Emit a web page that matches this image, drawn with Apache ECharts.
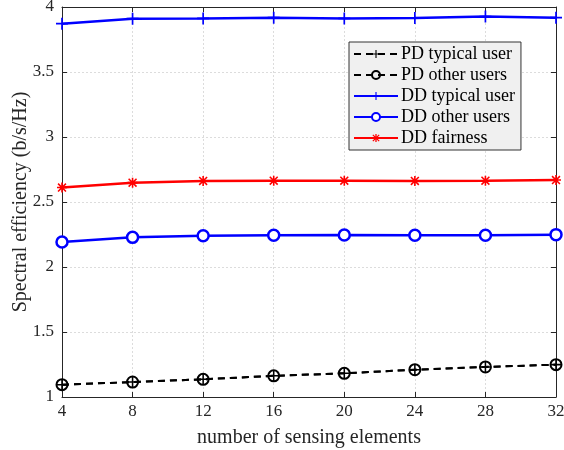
<!DOCTYPE html>
<html><head><meta charset="utf-8">
<script src="https://cdn.jsdelivr.net/npm/echarts@6/dist/echarts.min.js"></script>
<style>html,body{margin:0;padding:0;background:#fff}#c{width:564px;height:450px}</style>
</head><body><div id="c"></div>
<script>
const xValues = [4, 8, 12, 16, 20, 24, 28, 32];
const pdTypical = [1.095, 1.115, 1.136, 1.163, 1.182, 1.21, 1.231, 1.249];
const pdOther = [1.095, 1.115, 1.136, 1.163, 1.182, 1.21, 1.231, 1.249];
const ddTypical = [3.872, 3.91, 3.912, 3.918, 3.912, 3.916, 3.926, 3.918];
const ddOther = [2.192, 2.228, 2.241, 2.244, 2.246, 2.244, 2.244, 2.249];
const ddFair = [2.611, 2.649, 2.662, 2.664, 2.664, 2.662, 2.664, 2.669];
const seriesNames = ['PD typical user', 'PD other users', 'DD typical user', 'DD other users', 'DD fairness'];
const yTitle = 'Spectral efficiency (b/s/Hz)';
const xTitle = 'number of sensing elements';

const plusPath = 'path://M4.3,0h1.4v10h-1.4zM0,4.3h10v1.4h-10z';
const starPath = 'path://M4.2,0h1.6v10h-1.6zM0,4.2h10v1.6h-10zM0.5,1.6L1.6,0.5L9.5,8.4L8.4,9.5zM8.4,0.5L9.5,1.6L1.6,9.5L0.5,8.4z';
const font = 'Liberation Serif';
const pair = arr => xValues.map((x, i) => [x, arr[i]]);

const chart = echarts.init(document.getElementById('c'));
const axisCol = '#262626';
chart.setOption({
  animation: false,
  textStyle: {fontFamily: font},
  grid: {left: 62, right: 8, top: 7, bottom: 53, containLabel: false, outerBoundsMode: 'none'},
  graphic: [{
    type: 'text', x: 21, y: 202, rotation: Math.PI / 2,
    style: {text: yTitle, font: '20px "Liberation Serif"', fill: '#262626', align: 'center', verticalAlign: 'middle'}
  }],
  legend: {
    orient: 'vertical', left: 349, top: 42,
    backgroundColor: '#f0f0f0', borderColor: '#333', borderWidth: 1,
    padding: [3, 6, 3, 4], itemGap: 3, itemWidth: 44, itemHeight: 10,
    textStyle: {fontFamily: font, fontSize: 18, color: '#000', padding: [0, 0, 0, -2]},
    data: seriesNames
  },
  xAxis: [{
    type: 'value', min: 4, max: 32, interval: 4,
    name: xTitle, nameLocation: 'middle', nameGap: 31,
    nameTextStyle: {fontFamily: font, fontSize: 20, color: '#262626'},
    axisLine: {lineStyle: {color: axisCol, width: 1}},
    axisTick: {inside: true, length: 5, lineStyle: {color: axisCol}},
    axisLabel: {fontFamily: font, fontSize: 17, color: '#262626', margin: 6},
    splitLine: {show: true, lineStyle: {color: '#dcdcdc', type: [2, 2], width: 1}}
  }, {
    type: 'value', position: 'top', min: 4, max: 32, interval: 4,
    axisLine: {show: true, lineStyle: {color: axisCol, width: 1}},
    axisTick: {show: true, inside: true, length: 5, lineStyle: {color: axisCol}},
    axisLabel: {show: false}, splitLine: {show: false}
  }],
  yAxis: [{
    type: 'value', min: 1, max: 4, interval: 0.5,
    axisLine: {show: true, lineStyle: {color: axisCol, width: 1}},
    axisTick: {show: true, inside: true, length: 5, lineStyle: {color: axisCol}},
    axisLabel: {fontFamily: font, fontSize: 17, color: '#262626', margin: 8},
    splitLine: {show: true, lineStyle: {color: '#dcdcdc', type: [2, 2], width: 1}}
  }, {
    type: 'value', position: 'right', min: 1, max: 4, interval: 0.5,
    axisLine: {show: true, lineStyle: {color: axisCol, width: 1}},
    axisTick: {show: true, inside: true, length: 5, lineStyle: {color: axisCol}},
    axisLabel: {show: false}, splitLine: {show: false}
  }],
  series: [
    {name: seriesNames[0], type: 'line', data: pair(pdTypical), symbol: plusPath, symbolSize: 11,
     itemStyle: {color: '#000'}, lineStyle: {color: '#000', width: 2, type: [7, 5]}, z: 3},
    {name: seriesNames[1], type: 'line', data: pair(pdOther), symbol: 'circle', symbolSize: 11,
     itemStyle: {color: 'rgba(0,0,0,0)', borderColor: '#000', borderWidth: 2},
     lineStyle: {color: '#000', width: 2, type: [7, 5]}, z: 2},
    {name: seriesNames[2], type: 'line', data: pair(ddTypical), symbol: plusPath, symbolSize: 12,
     itemStyle: {color: '#0000ff'}, lineStyle: {color: '#0000ff', width: 2.5}},
    {name: seriesNames[3], type: 'line', data: pair(ddOther), symbol: 'circle', symbolSize: 11,
     itemStyle: {color: '#fff', borderColor: '#0000ff', borderWidth: 2.5},
     lineStyle: {color: '#0000ff', width: 2.5}},
    {name: seriesNames[4], type: 'line', data: pair(ddFair), symbol: starPath, symbolSize: 10,
     itemStyle: {color: '#ff0000'}, lineStyle: {color: '#ff0000', width: 2.5}}
  ]
});
</script></body></html>
